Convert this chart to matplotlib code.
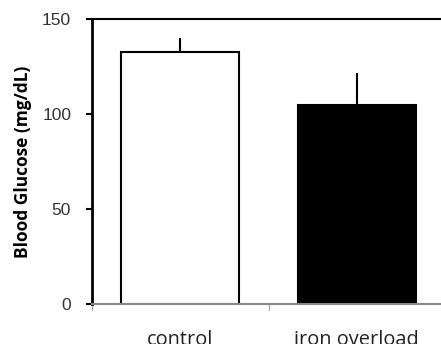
import matplotlib.pyplot as plt

groups = ['control', 'iron overload']
glucose = [132.5, 105.0]
sem_up = [7.5, 16.5]
bar_colors = ['white', 'black']

fig = plt.figure(figsize=(4.41, 3.44), dpi=100)
# axes spans past the right edge like the original crop
ax = fig.add_axes([92 / 441, 1 - 304 / 344, 353 / 441, 285 / 344])

x = range(len(groups))
ax.bar(x, glucose, width=0.67, color=bar_colors, edgecolor='black', linewidth=1.5, zorder=2)
ax.errorbar(x, glucose, yerr=[[0, 0], sem_up], fmt='none', ecolor='black',
            elinewidth=1.5, capsize=0, zorder=1)

ax.set_xlim(-0.5, 1.5)
ax.set_ylim(0, 150)
ax.set_yticks([0, 50, 100, 150])
ax.set_xticks([-0.5, 0.5, 1.5])
ax.set_xticklabels([])
ax.set_xticks(x, minor=True)
ax.set_xticklabels(groups, minor=True, fontsize=14.4, family='Open Sans', color='#222222')
ax.tick_params(axis='x', which='minor', length=0, pad=19)
ax.tick_params(axis='x', which='major', length=4, color='#999999', direction='out')
ax.tick_params(axis='y', length=4, width=1.5, pad=11, labelsize=12.5, labelcolor='#333333')
for lbl in ax.get_yticklabels():
    lbl.set_family('Liberation Sans')

ax.spines['right'].set_visible(False)
ax.spines['left'].set_linewidth(2)
ax.spines['top'].set_linewidth(1.5)
ax.spines['bottom'].set_color('#888888')
ax.spines['bottom'].set_linewidth(1.5)

ax.set_ylabel('Blood Glucose (mg/dL)', fontsize=12.5, fontweight='bold', family='Open Sans')
ax.yaxis.set_label_coords(-0.17, 0.5)

fig.savefig('out.png', dpi=100)
